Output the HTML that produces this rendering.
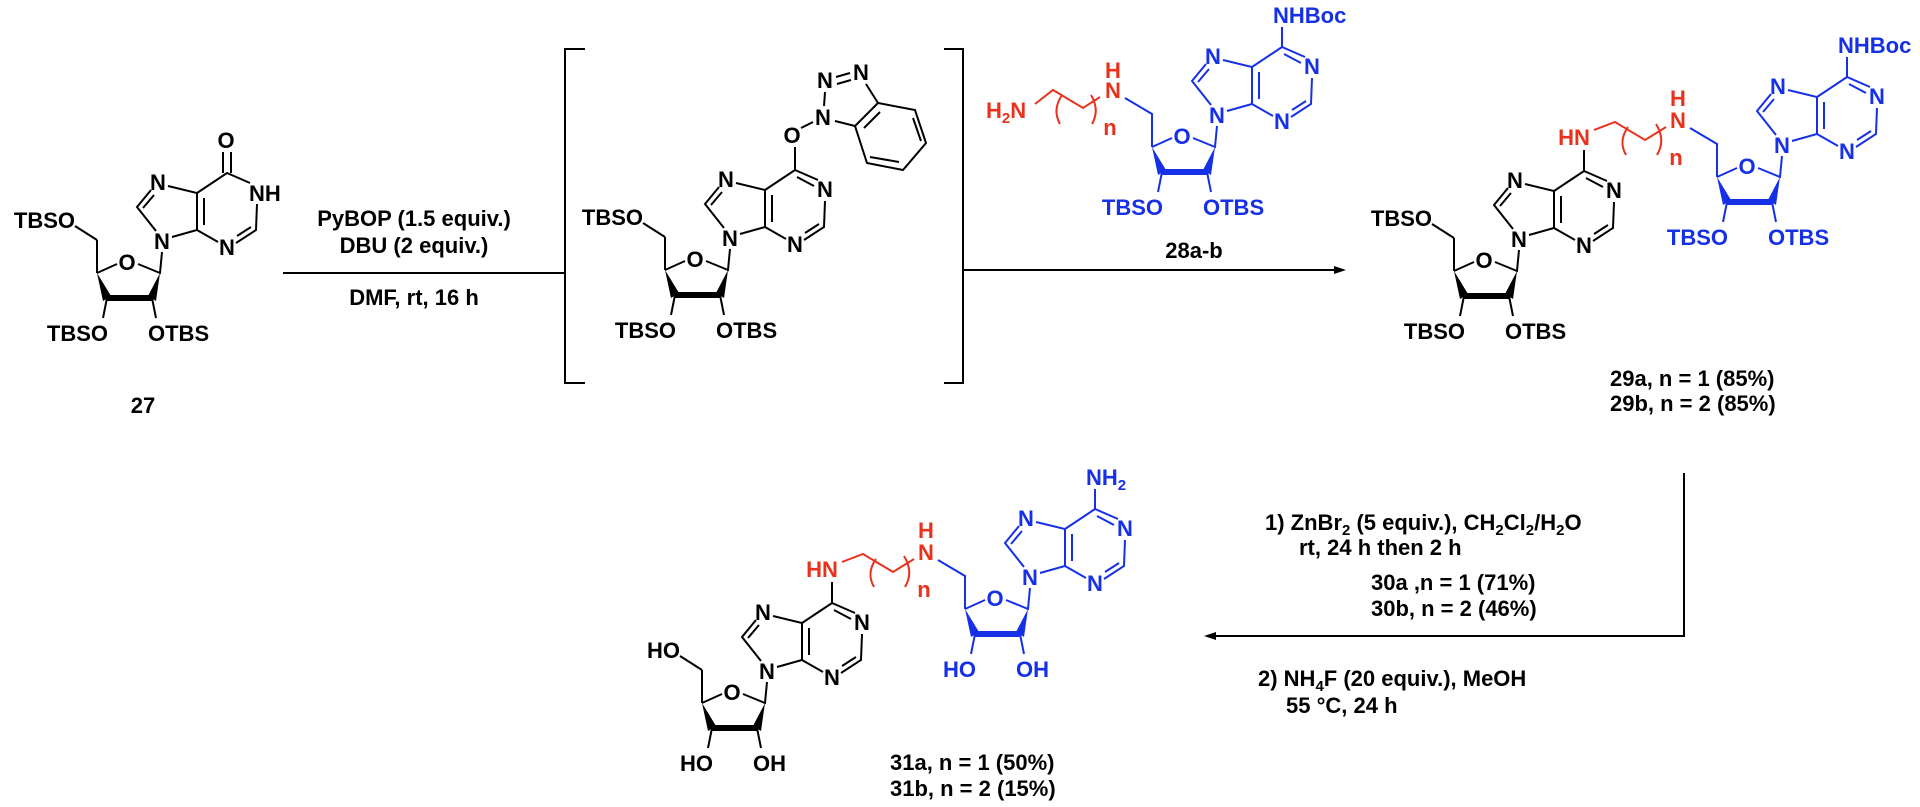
<!DOCTYPE html>
<html><head><meta charset="utf-8"><style>
html,body{margin:0;padding:0;background:#fff;}
svg{display:block;}
text{font-family:"Liberation Sans",Arial,sans-serif;font-weight:bold;font-size:22px;}
.k{color:#000;}
.b{color:#1530e6;}
.r{color:#e8321e;}
.k path,.b path,.r path{stroke:currentColor;fill:none;stroke-width:2;}
.k polygon,.b polygon{fill:currentColor;stroke:none;}
.k text,.b text,.r text{fill:currentColor;}
.c{text-anchor:middle;}
.e{text-anchor:end;}
</style></head><body>
<svg width="1920" height="807" viewBox="0 0 1920 807" xmlns="http://www.w3.org/2000/svg">

<!-- ===== 27 ===== -->
<g class="k" transform="translate(0,0)">
<path d="M97,240 L97,273 M97,273 L117,264 M138,264 L160,273 L162,252 M107,298 L103,318 M152,298 L156,318"/>
<polygon points="97,273 103,301 111,296"/><polygon points="160,273 148,296 156,301"/>
<path d="M107,298 L152,298" style="stroke-width:6"/>
<path d="M156,231 L137,207 L151,190 M168,186 L197,193 L197,230 L172,237 M197,230 L218,242 M236,243 L256,230 L257,204 M250,183 L227,173 L197,193 M143,208 L154,195 M204,198 L204,225 M237,236 L251,227"/>
<text class="c" x="162" y="249">N</text><text class="c" x="158" y="190">N</text><text class="c" x="227" y="255">N</text><text class="c" x="127" y="270">O</text>
<path d="M75,226 L97,240"/><text class="e" x="75" y="228">TBSO</text>
<text class="e" x="108" y="341">TBSO</text><text x="148" y="341">OTBS</text>
<path d="M223,173 L223,152 M231,173 L231,152"/><text class="c" x="226" y="148">O</text>
<text x="249" y="201">NH</text>
</g>
<text class="c" x="143" y="413">27</text>

<!-- arrow 1 -->
<g class="k">
<text class="c" x="414" y="226">PyBOP (1.5 equiv.)</text>
<text class="c" x="414" y="253">DBU (2 equiv.)</text>
<path d="M283,273 L565,273"/>
<text class="c" x="414" y="305">DMF, rt, 16 h</text>
<path d="M585,49 L565,49 L565,383 L585,383 M944,49 L963,49 L963,383 L944,383"/>
</g>

<!-- ===== intermediate ===== -->
<g class="k" transform="translate(568,-3)">
<path d="M97,240 L97,273 M97,273 L117,264 M138,264 L160,273 L162,252 M107,298 L103,318 M152,298 L156,318"/>
<polygon points="97,273 103,301 111,296"/><polygon points="160,273 148,296 156,301"/>
<path d="M107,298 L152,298" style="stroke-width:6"/>
<path d="M156,231 L137,207 L151,190 M168,186 L197,193 L197,230 L172,237 M197,230 L218,242 M236,243 L256,230 L257,204 M250,183 L227,173 L197,193 M143,208 L154,195 M204,198 L204,225 M237,236 L251,227 M229,180 L246,189"/>
<text class="c" x="162" y="249">N</text><text class="c" x="158" y="190">N</text><text class="c" x="227" y="255">N</text><text class="c" x="127" y="270">O</text>
<path d="M75,226 L97,240"/><text class="e" x="75" y="228">TBSO</text>
<text class="e" x="108" y="341">TBSO</text><text x="148" y="341">OTBS</text>
<text class="c" x="257" y="200">N</text>
<path d="M227,173 L227,150"/><text class="c" x="224" y="146">O</text>
</g>
<g class="k">
<path d="M801,128 L813,122 M824,106 L825,92 M836,77 L850,73 M837,84 L851,80 M866,84 L878,103 L915,110 L926,143 L903,170 L867,163 L855,126 L878,103 M835,121 L855,126 M880,112 L864,128 M913,118 L921,141 M899,162 L870,157"/>
<text class="c" x="823" y="125">N</text><text class="c" x="825" y="88">N</text><text class="c" x="861" y="80">N</text>
</g>

<!-- arrow 2 + 28a-b -->
<g class="k">
<path d="M963,270 L1338,270"/><polygon points="1346,270 1334,266 1334,274"/>
<text class="c" x="1194" y="258">28a-b</text>
</g>
<g class="b" transform="translate(1055,-126)">
<path d="M97,273 L117,264 M138,264 L160,273 L162,252 M107,298 L103,318 M152,298 L156,318"/>
<polygon points="97,273 103,301 111,296"/><polygon points="160,273 148,296 156,301"/>
<path d="M107,298 L152,298" style="stroke-width:6"/>
<path d="M156,231 L137,207 L151,190 M168,186 L197,193 L197,230 L172,237 M197,230 L218,242 M236,243 L256,230 L257,204 M250,183 L227,173 L197,193 M143,208 L154,195 M204,198 L204,225 M237,236 L251,227 M229,180 L246,189"/>
<text class="c" x="162" y="249">N</text><text class="c" x="158" y="190">N</text><text class="c" x="227" y="255">N</text><text class="c" x="127" y="270">O</text><text class="c" x="257" y="200">N</text>
<path d="M70,224 L97,240 L97,273"/>
<text class="e" x="108" y="341">TBSO</text><text x="148" y="341">OTBS</text>
<path d="M227,173 L227,153"/><text x="218" y="149">NHBoc</text>
</g>
<g class="r">
<text x="986" y="118">H<tspan font-size="15" dy="5">2</tspan><tspan dy="-5">N</tspan></text>
<path d="M1035,104 L1053,90 L1083,108 L1100,97 M1062,95 Q1052,110 1060,124 M1091,95 Q1100,110 1092,124"/>
<text class="c" x="1113" y="98">N</text><text class="c" x="1113" y="78">H</text>
<text class="c" x="1110" y="135">n</text>
</g>

<!-- ===== 29 ===== -->
<g class="k" transform="translate(1357,-2)">
<path d="M97,240 L97,273 M97,273 L117,264 M138,264 L160,273 L162,252 M107,298 L103,318 M152,298 L156,318"/>
<polygon points="97,273 103,301 111,296"/><polygon points="160,273 148,296 156,301"/>
<path d="M107,298 L152,298" style="stroke-width:6"/>
<path d="M156,231 L137,207 L151,190 M168,186 L197,193 L197,230 L172,237 M197,230 L218,242 M236,243 L256,230 L257,204 M250,183 L227,173 L197,193 M143,208 L154,195 M204,198 L204,225 M237,236 L251,227 M229,180 L246,189 M227,173 L227,152"/>
<text class="c" x="162" y="249">N</text><text class="c" x="158" y="190">N</text><text class="c" x="227" y="255">N</text><text class="c" x="127" y="270">O</text><text class="c" x="257" y="200">N</text>
<path d="M75,226 L97,240"/><text class="e" x="75" y="228">TBSO</text>
<text class="e" x="108" y="341">TBSO</text><text x="148" y="341">OTBS</text>
</g>
<g class="r">
<text class="c" x="1574" y="145">HN</text>
<path d="M1594,130 L1615,122 L1645,140 L1666,127 M1628,127 Q1618,141 1626,155 M1656,124 Q1666,140 1657,155"/>
<text class="c" x="1678" y="128">N</text><text class="c" x="1678" y="106">H</text>
<text class="c" x="1676" y="165">n</text>
</g>
<g class="b" transform="translate(1620,-96)">
<path d="M97,273 L117,264 M138,264 L160,273 L162,252 M107,298 L103,318 M152,298 L156,318"/>
<polygon points="97,273 103,301 111,296"/><polygon points="160,273 148,296 156,301"/>
<path d="M107,298 L152,298" style="stroke-width:6"/>
<path d="M156,231 L137,207 L151,190 M168,186 L197,193 L197,230 L172,237 M197,230 L218,242 M236,243 L256,230 L257,204 M250,183 L227,173 L197,193 M143,208 L154,195 M204,198 L204,225 M237,236 L251,227 M229,180 L246,189"/>
<text class="c" x="162" y="249">N</text><text class="c" x="158" y="190">N</text><text class="c" x="227" y="255">N</text><text class="c" x="127" y="270">O</text><text class="c" x="257" y="200">N</text>
<path d="M70,224 L97,240 L97,273"/>
<text class="e" x="108" y="341">TBSO</text><text x="148" y="341">OTBS</text>
<path d="M227,173 L227,153"/><text x="218" y="149">NHBoc</text>
</g>
<g class="k">
<text x="1610" y="386">29a, n = 1 (85%)</text>
<text x="1610" y="411">29b, n = 2 (85%)</text>
</g>

<!-- arrow 3 -->
<g class="k">
<path d="M1684,473 L1684,636 L1212,636"/><polygon points="1204,636 1216,632 1216,640"/>
<text x="1265" y="530">1) ZnBr<tspan font-size="15" dy="5">2</tspan><tspan dy="-5"> (5 equiv.), CH</tspan><tspan font-size="15" dy="5">2</tspan><tspan dy="-5">Cl</tspan><tspan font-size="15" dy="5">2</tspan><tspan dy="-5">/H</tspan><tspan font-size="15" dy="5">2</tspan><tspan dy="-5">O</tspan></text>
<text x="1299" y="555">rt, 24 h then 2 h</text>
<text x="1371" y="590">30a ,n = 1 (71%)</text>
<text x="1371" y="616">30b, n = 2 (46%)</text>
<text x="1258" y="686">2) NH<tspan font-size="15" dy="5">4</tspan><tspan dy="-5">F (20 equiv.), MeOH</tspan></text>
<text x="1286" y="713">55 °C, 24 h</text>
</g>

<!-- ===== 31 ===== -->
<g class="k" transform="translate(605,430)">
<path d="M97,240 L97,273 M97,273 L117,264 M138,264 L160,273 L162,252 M107,298 L103,318 M152,298 L156,318"/>
<polygon points="97,273 103,301 111,296"/><polygon points="160,273 148,296 156,301"/>
<path d="M107,298 L152,298" style="stroke-width:6"/>
<path d="M156,231 L137,207 L151,190 M168,186 L197,193 L197,230 L172,237 M197,230 L218,242 M236,243 L256,230 L257,204 M250,183 L227,173 L197,193 M143,208 L154,195 M204,198 L204,225 M237,236 L251,227 M229,180 L246,189 M227,173 L227,152"/>
<text class="c" x="162" y="249">N</text><text class="c" x="158" y="190">N</text><text class="c" x="227" y="255">N</text><text class="c" x="127" y="270">O</text><text class="c" x="257" y="200">N</text>
<path d="M75,226 L97,240"/><text class="e" x="75" y="228">HO</text>
<text class="e" x="108" y="341">HO</text><text x="148" y="341">OH</text>
</g>
<g class="r" transform="translate(-752,432)">
<text class="c" x="1574" y="145">HN</text>
<path d="M1594,130 L1615,122 L1645,140 L1666,127 M1628,127 Q1618,141 1626,155 M1656,124 Q1666,140 1657,155"/>
<text class="c" x="1678" y="128">N</text><text class="c" x="1678" y="106">H</text>
<text class="c" x="1676" y="165">n</text>
</g>
<g class="b" transform="translate(868,336)">
<path d="M97,273 L117,264 M138,264 L160,273 L162,252 M107,298 L103,318 M152,298 L156,318"/>
<polygon points="97,273 103,301 111,296"/><polygon points="160,273 148,296 156,301"/>
<path d="M107,298 L152,298" style="stroke-width:6"/>
<path d="M156,231 L137,207 L151,190 M168,186 L197,193 L197,230 L172,237 M197,230 L218,242 M236,243 L256,230 L257,204 M250,183 L227,173 L197,193 M143,208 L154,195 M204,198 L204,225 M237,236 L251,227 M229,180 L246,189"/>
<text class="c" x="162" y="249">N</text><text class="c" x="158" y="190">N</text><text class="c" x="227" y="255">N</text><text class="c" x="127" y="270">O</text><text class="c" x="257" y="200">N</text>
<path d="M70,224 L97,240 L97,273"/>
<text class="e" x="108" y="341">HO</text><text x="148" y="341">OH</text>
<path d="M227,173 L227,153"/><text x="218" y="149">NH<tspan font-size="15" dy="5">2</tspan></text>
</g>
<g class="k">
<text x="890" y="770">31a, n = 1 (50%)</text>
<text x="890" y="796">31b, n = 2 (15%)</text>
</g>
</svg>
</body></html>
